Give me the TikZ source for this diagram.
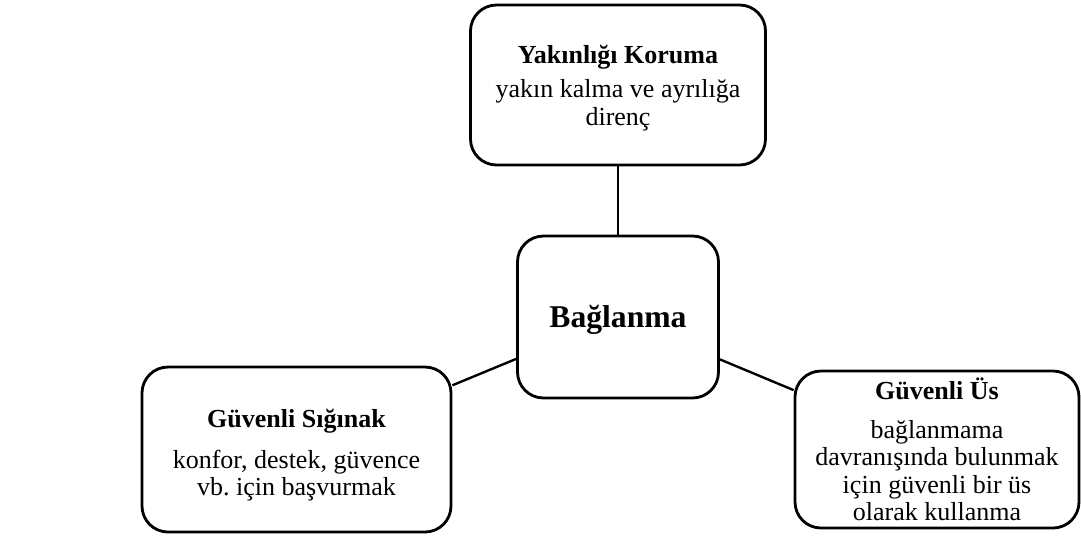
\documentclass[tikz,border=0pt]{standalone}
\usepackage{fontspec}
\setmainfont{Liberation Serif}
\frenchspacing
\begin{document}
\begin{tikzpicture}[
		kutu/.style={draw, line width=2pt, rounded corners=0.65cm, align=center, inner sep=0pt, font=\fontsize{18.5}{19.6}\selectfont},
		bag/.style={line width=1.7pt}
	]
		\fill[white] (0,0) rectangle (27.025,-13.9);
		
		\node[kutu, minimum width=7.375cm, minimum height=4cm] (koruma) at (15.45,-2.125)
			{\rule{0pt}{17pt}\textbf{Yakınlığı Koruma}\\[5pt] yakın kalma ve ayrılığa\\ direnç};
		
		\node[kutu, minimum width=5.025cm, minimum height=4.05cm, font=\fontsize{22.5}{27}\selectfont\bfseries] (baglanma) at (15.45,-7.925) {\rule{0pt}{20pt}Bağlanma};
		
		\node[kutu, minimum width=7.725cm, minimum height=4.125cm] (siginak) at (7.4125,-11.2375)
			{\rule{0pt}{21pt}\textbf{Güvenli Sığınak}\\[9.5pt] konfor, destek, güvence\\ vb. için başvurmak};
		
		\node[kutu, minimum width=7.1cm, minimum height=3.925cm] (us) at (23.425,-11.2375)
			{\textbf{Güvenli Üs}\\[8pt] bağlanmama\\ davranışında bulunmak\\ için güvenli bir üs\\ olarak kullanma};
		
		\draw[bag] (koruma.south) -- (baglanma.north);
		\draw[bag] (siginak) -- (baglanma);
		\draw[bag] (baglanma) -- (us);
	\end{tikzpicture}
\end{document}
